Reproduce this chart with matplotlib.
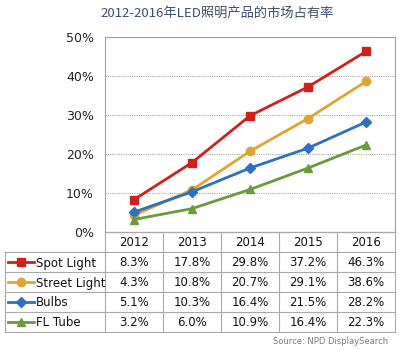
import matplotlib.pyplot as plt
from matplotlib.lines import Line2D

years = ["2012", "2013", "2014", "2015", "2016"]
series_names = ["Spot Light", "Street Light", "Bulbs", "FL Tube"]
spot_light = [8.3, 17.8, 29.8, 37.2, 46.3]
street_light = [4.3, 10.8, 20.7, 29.1, 38.6]
bulbs = [5.1, 10.3, 16.4, 21.5, 28.2]
fl_tube = [3.2, 6.0, 10.9, 16.4, 22.3]
yticks = [0, 10, 20, 30, 40, 50]

colors = ["#d0201c", "#e0a431", "#2f6fbf", "#6a9a3c"]
markers = ["s", "o", "D", "^"]
msizes = [6, 6, 5, 6]

W, H = 400, 351
fig = plt.figure(figsize=(4, 3.51), dpi=100)
fig.patch.set_facecolor("white")


def fx(px):
    return px / W


def fy(py):
    return 1 - py / H


# main plot area (pixel bounds)
left, right, top, bottom = 105, 395, 37, 232
ax = fig.add_axes([fx(left), fy(bottom), fx(right - left), (bottom - top) / H])
n = len(years)
ax.set_xlim(-0.5, n - 0.5)
ax.set_ylim(0, 50)
ax.set_yticks(yticks)
ax.set_yticklabels(["%d%%" % v for v in yticks], fontsize=9, color="#222222")
ax.set_xticks([])
ax.tick_params(axis="y", length=0, pad=8)
for s in ax.spines.values():
    s.set_color("#a0a0a0")
    s.set_linewidth(0.8)
ax.grid(axis="y", color="#a8a8a8", linewidth=0.8, linestyle=(0, (1, 1)))
ax.set_axisbelow(True)

all_series = [spot_light, street_light, bulbs, fl_tube]
for vals, c, m, ms in zip(all_series, colors, markers, msizes):
    ax.plot(range(n), vals, color=c, marker=m, markersize=ms, linewidth=2)

# data table under the chart, in pixel coordinates
tab = fig.add_axes([0, 0, 1, 1])
tab.set_xlim(0, W)
tab.set_ylim(H, 0)
tab.axis("off")

col_edges = [105, 163, 221, 279, 337, 395]
row_edges = [232, 252, 272, 292, 312, 332]
lc = "#a8a8a8"
for x in col_edges:
    tab.add_line(Line2D([x, x], [row_edges[0], row_edges[-1]], color=lc, lw=0.8))
tab.add_line(Line2D([5, 5], [row_edges[1], row_edges[-1]], color=lc, lw=0.8))
tab.add_line(Line2D([105, 395], [row_edges[0], row_edges[0]], color=lc, lw=0.8))
for y in row_edges[1:]:
    tab.add_line(Line2D([5, 395], [y, y], color=lc, lw=0.8))

for j, yr in enumerate(years):
    cx = (col_edges[j] + col_edges[j + 1]) / 2
    tab.text(cx, (row_edges[0] + row_edges[1]) / 2 + 1, yr, ha="center",
             va="center", fontsize=8.5, color="#111111")

for i, (name, vals) in enumerate(zip(series_names, all_series)):
    cy = (row_edges[i + 1] + row_edges[i + 2]) / 2
    tab.plot([8, 21, 34], [cy, cy, cy], color=colors[i], lw=2,
             marker=markers[i], markersize=msizes[i], markevery=[1])
    tab.text(36, cy + 1, name, ha="left", va="center", fontsize=8.5,
             color="#111111")
    for j, v in enumerate(vals):
        cx = (col_edges[j] + col_edges[j + 1]) / 2
        tab.text(cx, cy + 1, "%.1f%%" % v, ha="center", va="center",
                 fontsize=8.5, color="#111111")

fig.text(fx(217), fy(13), "2012-2016年LED照明产品的市场占有率",
         ha="center", va="center", fontsize=9.5, color="#3d4f6e",
         family=["Noto Sans CJK SC", "DejaVu Sans"])
fig.text(fx(388), fy(342), "Source: NPD DisplaySearch", ha="right",
         va="center", fontsize=6, color="#7a7a7a")

fig.savefig("out.png", dpi=100)
